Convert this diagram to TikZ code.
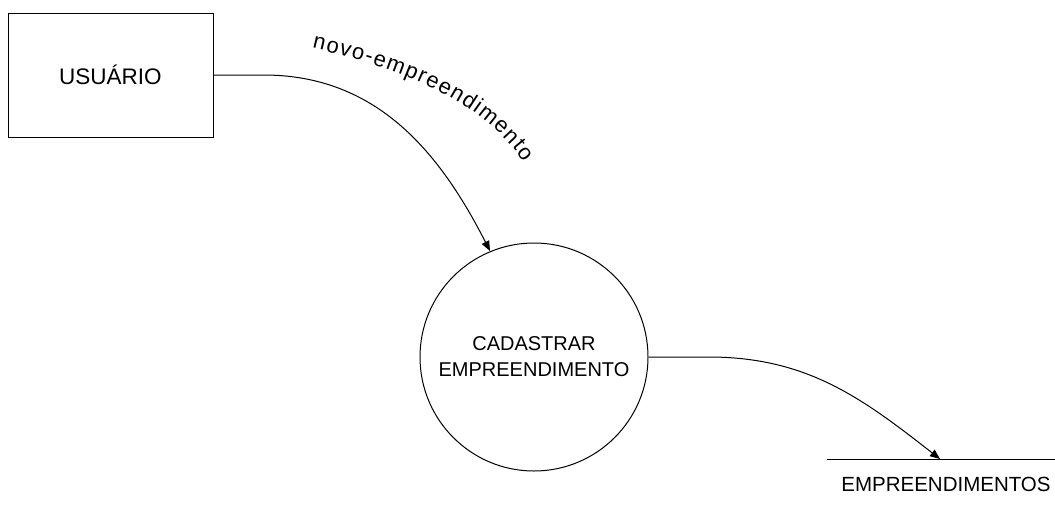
\documentclass[tikz,border=0pt]{standalone}
\usepackage{fontspec}
\setmainfont{Liberation Sans}
\usetikzlibrary{arrows.meta,decorations.text}
\begin{document}
\begin{tikzpicture}[x=1pt,y=-1pt,line width=1pt,
  entity/.style={draw,minimum width=205pt,minimum height=124pt,inner sep=0pt,font=\fontsize{22.5}{26}\selectfont},
  process/.style={draw,circle,minimum size=228pt,inner sep=0pt,align=center,font=\fontsize{20}{26}\selectfont},
  flow/.style={-{Triangle[length=10pt,width=8pt]}},
  storelabel/.style={font=\fontsize{20.5}{22}\selectfont}]
\useasboundingbox (0,0) rectangle (1055,504);
\node[entity] (usr) at (110.5,75) {USUÁRIO};
\node[process] (proc) at (534,357) {CADASTRAR\\EMPREENDIMENTO};
\coordinate (sl) at (827,459);
\coordinate (sr) at (1055,459);
\draw (sl) -- (sr);
\node[storelabel] (store) at (946,484) {EMPREENDIMENTOS};
\coordinate (storein) at (940,459);
\draw[flow] (usr.east) -- ++(50,0) to[out=0,in=117] (490,251);
\draw[flow] (proc.east) -- ++(60,0) to[out=0,in=142] (storein);
\path[decorate,decoration={text along path,text align={fit to path},
  text={|\fontsize{22}{24}\selectfont|novo-empreendimento}}]
  (312,48) .. controls (410,70) and (485,105) .. (524,162);
\end{tikzpicture}
\end{document}
